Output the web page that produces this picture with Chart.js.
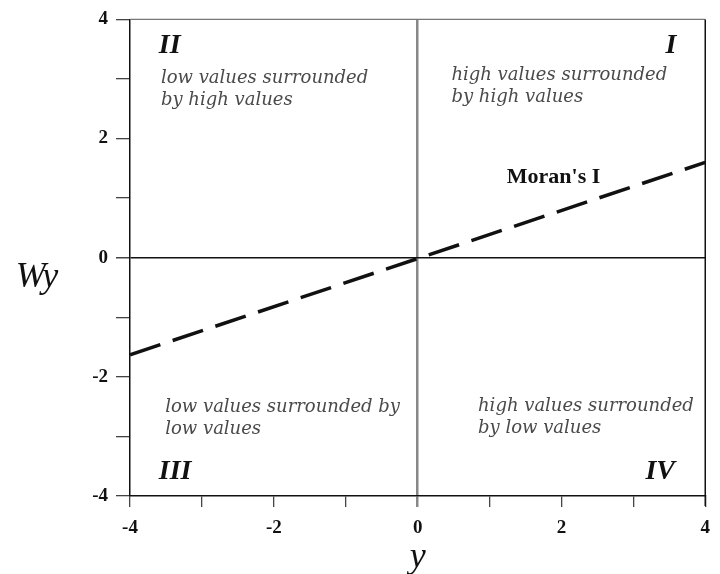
<!DOCTYPE html>
<html>
<head>
<meta charset="utf-8">
<script src="https://cdn.jsdelivr.net/npm/chart.js@4"></script>
<style>
  body { margin: 0; background: #fff; }
  #wrap { width: 720px; height: 574px; }
</style>
</head>
<body>
<div id="wrap"><canvas id="myChart" width="720" height="574"></canvas></div>
<script>
// Moran scatterplot frame
let axisMin = -4;
let axisMax = 4;
let lineX = [-4, 4];
let lineY = [-1.63, 1.6];
let quadrantNames = ['I', 'II', 'III', 'IV'];
let quadrantText = [
    ['high values surrounded', 'by high values'],
    ['low values surrounded', 'by high values'],
    ['low values surrounded by', 'low values'],
    ['high values surrounded', 'by low values']
];
let lineName = "Moran's I";

let points = [];
for (let i = 0; i < lineX.length; i++) {
    points.push({ x: lineX[i], y: lineY[i] });
}

let serif = '"Liberation Serif", "Times New Roman", serif';

// text placed in data units so it sits on the scales
let notesPlugin = {
    id: 'notes',
    afterDraw: function(chart) {
        let ctx = chart.ctx;
        let xs = chart.scales.x;
        let ys = chart.scales.y;
        let area = chart.chartArea;
        let px = v => xs.getPixelForValue(v);
        let py = v => ys.getPixelForValue(v);

        ctx.save();

        // frame: top gray, right black
        ctx.strokeStyle = '#777';
        ctx.lineWidth = 1.2;
        ctx.beginPath();
        ctx.moveTo(area.left, area.top);
        ctx.lineTo(area.right, area.top);
        ctx.stroke();
        ctx.strokeStyle = '#111';
        ctx.lineWidth = 1.5;
        ctx.beginPath();
        ctx.moveTo(area.right, area.top);
        ctx.lineTo(area.right, area.bottom + 10);
        ctx.stroke();

        // roman numerals
        ctx.fillStyle = '#111';
        ctx.font = 'italic bold 28px ' + serif;
        ctx.textBaseline = 'alphabetic';
        ctx.textAlign = 'right';
        ctx.fillText(quadrantNames[0], px(3.6), py(3.43));
        ctx.fillText(quadrantNames[3], px(3.58), py(-3.72));
        ctx.textAlign = 'left';
        ctx.fillText(quadrantNames[1], px(-3.6), py(3.43));
        ctx.fillText(quadrantNames[2], px(-3.6), py(-3.72));

        // descriptions
        ctx.fillStyle = '#4a4a4a';
        ctx.font = 'italic 18px "DejaVu Serif", serif';
        let spots = [[0.47, 2.98], [-3.57, 2.93], [-3.51, -2.59], [0.84, -2.57]];
        for (let q = 0; q < quadrantText.length; q++) {
            let lines = quadrantText[q];
            for (let k = 0; k < lines.length; k++) {
                ctx.fillText(lines[k], px(spots[q][0]), py(spots[q][1]) + k * 22);
            }
        }

        // line name
        ctx.fillStyle = '#111';
        ctx.font = 'bold 22px ' + serif;
        ctx.fillText(lineName, px(1.24), py(1.25));

        // axis names
        ctx.font = 'italic 36px ' + serif;
        ctx.textAlign = 'center';
        ctx.fillText('Wy', 37, py(0) + 29);
        ctx.fillText('y', (area.left + area.right) / 2, 567);

        ctx.restore();
    }
};

let ctx = document.getElementById('myChart').getContext('2d');

let myChart = new Chart(ctx, {
    type: 'scatter',
    data: {
        datasets: [{
            label: lineName,
            data: points,
            showLine: true,
            borderColor: '#111',
            borderWidth: 3.5,
            borderDash: [32, 13],
            pointRadius: 0,
            fill: false
        }]
    },
    options: {
        responsive: false,
        animation: false,
        layout: { padding: { top: 19, right: 14, left: 0, bottom: 0 } },
        plugins: {
            legend: { display: false },
            tooltip: { enabled: false }
        },
        scales: {
            x: {
                type: 'linear',
                min: axisMin,
                max: axisMax,
                afterFit: function(s) { s.height = 78; },
                ticks: {
                    stepSize: 1,
                    padding: 10,
                    color: '#111',
                    font: { family: serif, size: 19, weight: 'bold' },
                    maxRotation: 0,
                    autoSkip: false,
                    callback: v => (v % 2 === 0 ? v : '')
                },
                grid: {
                    color: c => (c.tick && c.tick.value === 0 ? '#888' : 'rgba(0,0,0,0)'),
                    lineWidth: c => (c.tick && c.tick.value === 0 ? 2.5 : 1.3),
                    tickColor: c => (c.tick && c.tick.value === 0 ? '#888' : '#444'),
                    tickLength: 11
                },
                border: { color: '#111', width: 1.5 }
            },
            y: {
                type: 'linear',
                min: axisMin,
                max: axisMax,
                afterFit: function(s) { s.width = 130; },
                ticks: {
                    stepSize: 1,
                    padding: 8,
                    color: '#111',
                    font: { family: serif, size: 19, weight: 'bold' },
                    autoSkip: false,
                    callback: v => (v % 2 === 0 ? v : '')
                },
                grid: {
                    color: c => (c.tick && c.tick.value === 0 ? '#111' : 'rgba(0,0,0,0)'),
                    lineWidth: c => (c.tick && c.tick.value === 0 ? 1.5 : 1.3),
                    tickColor: '#444',
                    tickLength: 14
                },
                border: { color: '#111', width: 1.5 }
            }
        }
    },
    plugins: [notesPlugin]
});
</script>
</body>
</html>
